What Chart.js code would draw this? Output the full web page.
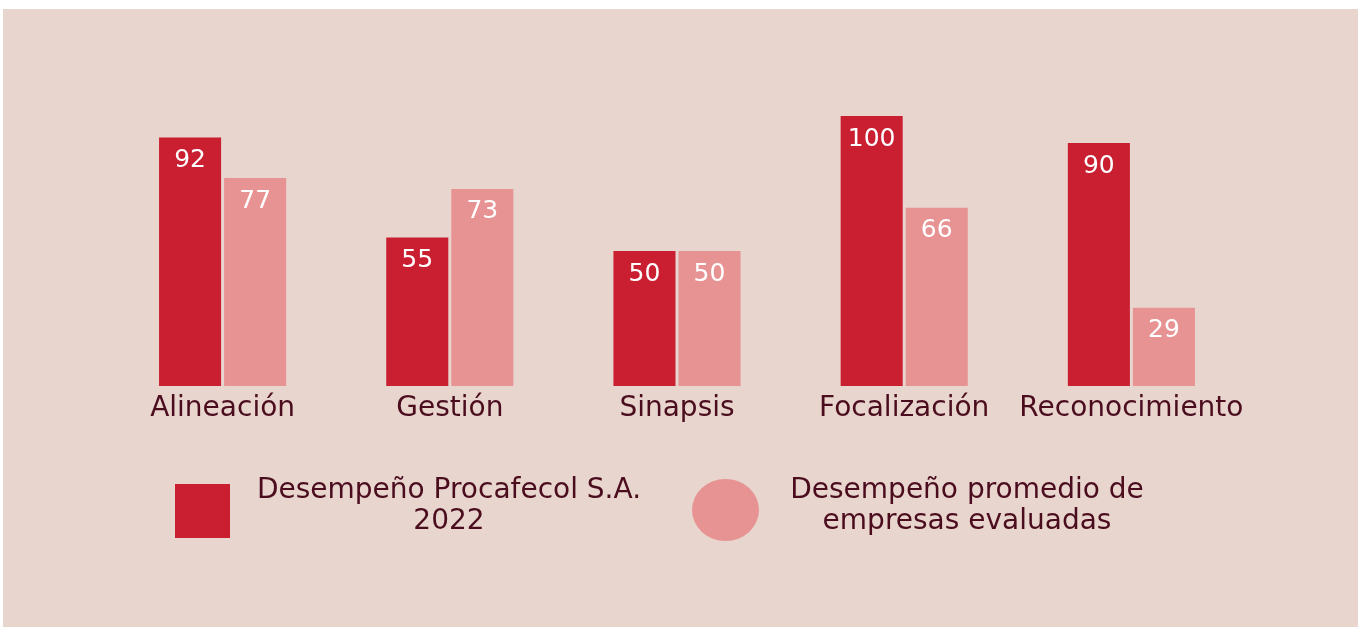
<!DOCTYPE html>
<html>
<head>
<meta charset="utf-8">
<script src="https://cdn.jsdelivr.net/npm/chart.js@4.4.1/dist/chart.umd.min.js"></script>
<style>
  html, body { margin: 0; padding: 0; background: #ffffff; }
  #panel { position: absolute; left: 3px; top: 9px; width: 1355px; height: 618px; background: #e7d5ce; }
  #chart { position: absolute; left: 0; top: 0; }
</style>
</head>
<body>
<div id="panel"></div>
<canvas id="chart" width="1363" height="632"></canvas>
<script>
// datos del gráfico
var categorias = ['Alineación', 'Gestión', 'Sinapsis', 'Focalización', 'Reconocimiento'];
var procafecol = [92, 55, 50, 100, 90];
var promedio = [77, 73, 50, 66, 29];
var series = [
  ['Desempeño Procafecol S.A.', '2022'],
  ['Desempeño promedio de', 'empresas evaluadas']
];

var rojo = '#c91f30';
var rosa = '#e89393';
var texto = '#4b0d1e';
var fuente = 'DejaVu Sans';

// valores blancos dentro de cada barra
var etiquetas = {
  id: 'etiquetas',
  afterDatasetsDraw: function (chart) {
    var ctx = chart.ctx;
    ctx.save();
    ctx.fillStyle = '#ffffff';
    ctx.font = '25px "' + fuente + '"';
    ctx.textAlign = 'center';
    ctx.textBaseline = 'middle';
    chart.data.datasets.forEach(function (ds, i) {
      chart.getDatasetMeta(i).data.forEach(function (bar, j) {
        ctx.fillText(String(ds.data[j]), bar.x, bar.y + 23);
      });
    });
    ctx.restore();
  }
};

// leyenda: cuadrado y círculo con texto en dos líneas
var leyenda = {
  id: 'leyenda',
  afterDraw: function (chart) {
    var ctx = chart.ctx;
    var base = chart.chartArea.bottom;
    ctx.save();
    ctx.fillStyle = chart.data.datasets[0].backgroundColor;
    ctx.fillRect(175, base + 98, 55, 54);
    ctx.fillStyle = chart.data.datasets[1].backgroundColor;
    ctx.beginPath();
    ctx.ellipse(725.5, base + 124, 33.5, 31, 0, 0, Math.PI * 2);
    ctx.fill();

    ctx.fillStyle = texto;
    ctx.font = '28px "' + fuente + '"';
    ctx.textAlign = 'center';
    ctx.textBaseline = 'middle';
    var centros = [449, 967];
    series.forEach(function (lineas, i) {
      lineas.forEach(function (l, k) {
        ctx.fillText(l, centros[i], base + 105 + k * 31);
      });
    });
    ctx.restore();
  }
};

new Chart(document.getElementById('chart'), {
  type: 'bar',
  data: {
    labels: categorias,
    datasets: [
      { label: series[0].join(' '), data: procafecol, backgroundColor: rojo },
      { label: series[1].join(' '), data: promedio, backgroundColor: rosa }
    ]
  },
  options: {
    responsive: false,
    animation: false,
    devicePixelRatio: 1,
    categoryPercentage: 130 / 227,
    barPercentage: 62 / 65,
    layout: { padding: { left: 109, right: 118, top: 116, bottom: 206 } },
    plugins: { legend: { display: false }, tooltip: { enabled: false } },
    scales: {
      x: {
        grid: { display: false, drawTicks: false },
        border: { display: false },
        ticks: {
          color: texto, padding: 6, autoSkip: false, maxRotation: 0, minRotation: 0,
          font: { family: fuente, size: 28 }
        },
        afterFit: function (scale) { scale.height = 40; }
      },
      y: { display: false, min: 0, max: 100 }
    }
  },
  plugins: [etiquetas, leyenda]
});
</script>
</body>
</html>
